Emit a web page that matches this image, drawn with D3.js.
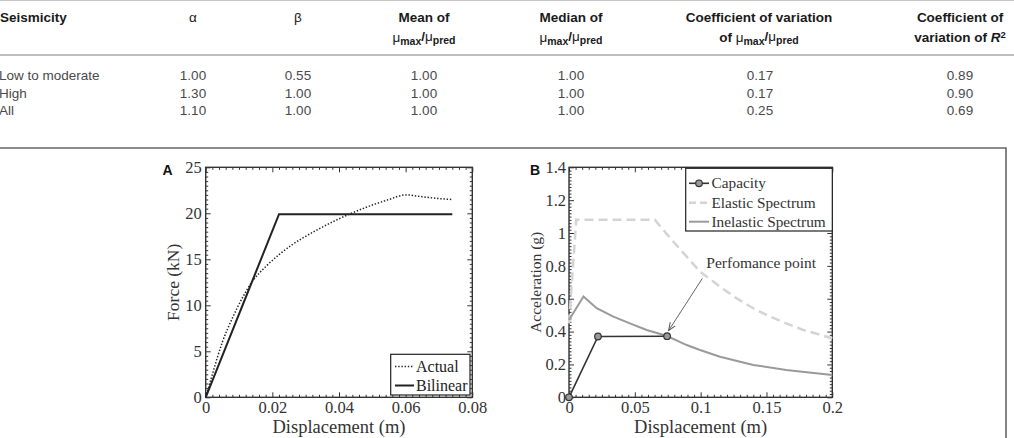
<!DOCTYPE html>
<html><head><meta charset="utf-8">
<script src="https://cdn.jsdelivr.net/npm/d3@7"></script>
<style>body{margin:0;background:#fff;overflow:hidden} svg{display:block}</style>
</head><body>
<svg id="c" width="1014" height="438"></svg>
<script>
// ---------- table data ----------
const seismicity = ["Low to moderate", "High", "All"];
const alphaVals = ["1.00", "1.30", "1.10"];
const betaVals = ["0.55", "1.00", "1.00"];
const meanVals = ["1.00", "1.00", "1.00"];
const medianVals = ["1.00", "1.00", "1.00"];
const covMuVals = ["0.17", "0.17", "0.25"];
const covR2Vals = ["0.89", "0.90", "0.69"];

// ---------- panel A data ----------
const actualDisp  = [0, 0.002, 0.005, 0.008, 0.011, 0.014, 0.018, 0.022, 0.026, 0.030, 0.035, 0.040, 0.045, 0.050, 0.055, 0.060, 0.065, 0.070, 0.074];
const actualForce = [0, 2.5, 6.0, 8.6, 10.8, 12.6, 14.2, 15.5, 16.6, 17.5, 18.5, 19.4, 20.2, 20.9, 21.5, 22.0, 21.8, 21.6, 21.5];
const bilinearDisp  = [0, 0.022, 0.074];
const bilinearForce = [0, 19.9, 19.9];
const xTicksA = [0, 0.02, 0.04, 0.06, 0.08];
const yTicksA = [0, 5, 10, 15, 20, 25];

// ---------- panel B data ----------
const capacityDisp = [0, 0.022, 0.0745];
const capacityAcc  = [0, 0.37, 0.372];
const elasticDisp = [0, 0.0055, 0.0653, 0.0717, 0.0793, 0.0894, 0.0995, 0.1147, 0.1274, 0.140, 0.1527, 0.165, 0.178, 0.2];
const elasticAcc  = [0.45, 1.08, 1.08, 1.018, 0.947, 0.856, 0.765, 0.673, 0.602, 0.542, 0.491, 0.450, 0.410, 0.359];
const inelasticDisp = [0, 0.011, 0.021, 0.0337, 0.0463, 0.059, 0.0745, 0.0894, 0.0995, 0.1147, 0.140, 0.165, 0.2];
const inelasticAcc  = [0.47, 0.613, 0.542, 0.491, 0.450, 0.41, 0.373, 0.318, 0.288, 0.247, 0.197, 0.166, 0.136];
const perfPoint = [0.0745, 0.372];
const xTicksB = [0, 0.05, 0.1, 0.15, 0.2];
const yTicksB = [0, 0.2, 0.4, 0.6, 0.8, 1, 1.2, 1.4];

const svg = d3.select("#c");
const SANS = "'Liberation Sans', Arial, Helvetica, sans-serif";
const SERIF = "'Liberation Serif', 'Times New Roman', serif";

// ================= TABLE =================
svg.append("line").attr("x1", 0).attr("x2", 1014).attr("y1", 0.5).attr("y2", 0.5)
  .attr("stroke", "#c8c8c8").attr("stroke-width", 1);
svg.append("line").attr("x1", 0).attr("x2", 1014).attr("y1", 55).attr("y2", 55)
  .attr("stroke", "#bdbdbd").attr("stroke-width", 2);

const tbl = svg.append("g").attr("font-family", SANS).attr("font-size", 13.5);
function rich(x, y, anchor, segs, weight) {
  const t = tbl.append("text").attr("x", x).attr("y", y).attr("text-anchor", anchor)
    .attr("font-weight", weight).attr("fill", "#1a1a1a");
  segs.forEach(s => {
    const ts = t.append("tspan").text(s.t);
    if (s.sub) ts.attr("font-size", 10.5).attr("dy", "0.3em");
    if (s.unsub) ts.attr("dy", "-0.3em");
    if (s.sup) ts.attr("font-size", 9.5).attr("dy", "-0.45em");
    if (s.normal) ts.attr("font-weight", "normal");
    if (s.italic) ts.attr("font-style", "italic");
  });
  return t;
}
const muRatio = [{t: "μ", normal: true}, {t: "max", sub: true}, {t: "/", unsub: true}, {t: "μ", normal: true}, {t: "pred", sub: true}];
const L1 = 22, L2 = 42;
rich(0, L1, "start", [{t: "Seismicity"}], "bold");
rich(193, L1, "middle", [{t: "α", normal: true}], "bold");
rich(298, L1, "middle", [{t: "β", normal: true}], "bold");
rich(424, L1, "middle", [{t: "Mean of"}], "bold");
rich(424, L2, "middle", muRatio, "bold");
rich(571, L1, "middle", [{t: "Median of"}], "bold");
rich(571, L2, "middle", muRatio, "bold");
rich(759, L1, "middle", [{t: "Coefficient of variation"}], "bold");
rich(759, L2, "middle", [{t: "of "}].concat(muRatio), "bold");
rich(960, L1, "middle", [{t: "Coefficient of"}], "bold");
rich(960, L2, "middle", [{t: "variation of "}, {t: "R", italic: true}, {t: "2", sup: true}], "bold");

const cols = [
  {vals: seismicity, x: -1, anchor: "start"},
  {vals: alphaVals, x: 193, anchor: "middle"},
  {vals: betaVals, x: 298, anchor: "middle"},
  {vals: meanVals, x: 424, anchor: "middle"},
  {vals: medianVals, x: 571, anchor: "middle"},
  {vals: covMuVals, x: 760, anchor: "middle"},
  {vals: covR2Vals, x: 960, anchor: "middle"}
];
const rowY = [80, 97.5, 115];
cols.forEach(c => {
  tbl.selectAll(null).data(c.vals).enter().append("text")
    .attr("x", c.x).attr("y", (d, i) => rowY[i]).attr("text-anchor", c.anchor)
    .attr("fill", "#4a4a4a").text(d => d);
});

// ================= FIGURE FRAME =================
svg.append("path").attr("d", "M-2,148 H1006 V440").attr("fill", "none")
  .attr("stroke", "#666").attr("stroke-width", 1.6);

// ================= generic panel =================
function range(a, b, step) { const r = []; for (let i = 0; a + i * step <= b + 1e-9; i++) r.push(+(a + i * step).toFixed(6)); return r; }

function panel(opt) {
  const g = svg.append("g");
  const x = d3.scaleLinear().domain(opt.xd).range(opt.xr);
  const y = d3.scaleLinear().domain(opt.yd).range(opt.yr);
  const [x0, x1] = opt.xr, [y0, y1] = opt.yr;
  const minorX = range(opt.xd[0], opt.xd[1], opt.xMinor).filter(v => !opt.xTicks.some(t => Math.abs(t - v) < 1e-9));
  const minorY = range(opt.yd[0], opt.yd[1], opt.yMinor).filter(v => !opt.yTicks.some(t => Math.abs(t - v) < 1e-9));
  const axes = g.append("g");
  const mk = (axisFn, scale, vals, size, tr, lab, pad) => {
    const a = axisFn(scale).tickValues(vals).tickSize(size).tickSizeOuter(0).tickPadding(pad || 3);
    if (!lab) a.tickFormat("");
    else a.tickFormat(d => String(d));
    const s = axes.append("g").attr("transform", tr).call(a);
    s.attr("font-family", SERIF).attr("font-size", 16.5);
    s.select(".domain").remove();
    s.selectAll("line").attr("stroke", "#333").attr("stroke-width", 1);
    s.selectAll("text").attr("fill", "#333");
    return s;
  };
  const xl = mk(d3.axisBottom, x, opt.xTicks, -5, `translate(0,${y0})`, true, 4);
  xl.selectAll("text").attr("dy", null).attr("y", 16);
  mk(d3.axisBottom, x, minorX, -2.5, `translate(0,${y0})`, false);
  mk(d3.axisTop, x, opt.xTicks, -5, `translate(0,${y1})`, false);
  mk(d3.axisTop, x, minorX, -2.5, `translate(0,${y1})`, false);
  mk(d3.axisLeft, y, opt.yTicks, -5, `translate(${x0},0)`, true, opt.yPad);
  mk(d3.axisLeft, y, minorY, -2.5, `translate(${x0},0)`, false);
  mk(d3.axisRight, y, opt.yTicks, -5, `translate(${x1},0)`, false);
  mk(d3.axisRight, y, minorY, -2.5, `translate(${x1},0)`, false);
  g.append("rect").attr("x", x0).attr("y", y1).attr("width", x1 - x0).attr("height", y0 - y1)
    .attr("fill", "none").attr("stroke", "#333").attr("stroke-width", 1.4);
  // titles
  g.append("text").attr("x", (x0 + x1) / 2).attr("y", 433).attr("text-anchor", "middle")
    .attr("font-family", SERIF).attr("font-size", 18.5).attr("fill", "#333").text(opt.xTitle);
  g.append("text").attr("transform", `translate(${opt.yTitleX},${(y0 + y1) / 2}) rotate(-90)`)
    .attr("text-anchor", "middle").attr("font-family", SERIF).attr("font-size", opt.yTitleSize)
    .attr("fill", "#333").text(opt.yTitle);
  g.append("text").attr("x", opt.labelX).attr("y", 175).attr("font-family", SANS)
    .attr("font-weight", "bold").attr("font-size", 14).attr("fill", "#111").text(opt.label);
  return {g, x, y};
}

// ================= PANEL A =================
const A = panel({
  xd: [0, 0.08], xr: [205.7, 472.3], yd: [0, 25], yr: [397.3, 167.3],
  xTicks: xTicksA, yTicks: yTicksA, xMinor: 0.002, yMinor: 0.5, yPad: 4,
  xTitle: "Displacement (m)", yTitle: "Force (kN)", yTitleX: 179, yTitleSize: 17.5,
  label: "A", labelX: 162.5
});
const lineA = d3.line().x(d => A.x(d[0])).y(d => A.y(d[1]));
A.g.append("path").datum(actualDisp.map((d, i) => [d, actualForce[i]]))
  .attr("d", lineA.curve(d3.curveMonotoneX)).attr("fill", "none").attr("stroke", "#222")
  .attr("stroke-width", 1.5).attr("stroke-dasharray", "1.4,1.8");
A.g.append("path").datum(bilinearDisp.map((d, i) => [d, bilinearForce[i]]))
  .attr("d", d3.line().x(d => A.x(d[0])).y(d => A.y(d[1]))).attr("fill", "none")
  .attr("stroke", "#222").attr("stroke-width", 2);
// legend A
const lgA = A.g.append("g").attr("font-family", SERIF).attr("font-size", 16).attr("fill", "#222");
lgA.append("rect").attr("x", 390.7).attr("y", 354.3).attr("width", 79.3).attr("height", 40.7)
  .attr("fill", "#fff").attr("stroke", "#222").attr("stroke-width", 1.2);
lgA.append("line").attr("x1", 395).attr("x2", 414).attr("y1", 366.5).attr("y2", 366.5)
  .attr("stroke", "#222").attr("stroke-width", 1.5).attr("stroke-dasharray", "1.4,1.8");
lgA.append("line").attr("x1", 395).attr("x2", 414).attr("y1", 385.5).attr("y2", 385.5)
  .attr("stroke", "#222").attr("stroke-width", 2);
lgA.append("text").attr("x", 416).attr("y", 372).text("Actual");
lgA.append("text").attr("x", 416).attr("y", 391).text("Bilinear");

// ================= PANEL B =================
const B = panel({
  xd: [0, 0.2], xr: [569, 832.3], yd: [0, 1.4], yr: [397.3, 167.3],
  xTicks: xTicksB, yTicks: yTicksB, xMinor: 0.005, yMinor: 0.02, yPad: 3,
  xTitle: "Displacement (m)", yTitle: "Acceleration (g)", yTitleX: 541, yTitleSize: 15.5,
  label: "B", labelX: 530
});
const lineB = d3.line().x(d => B.x(d[0])).y(d => B.y(d[1]));
B.g.append("path").datum(elasticDisp.map((d, i) => [d, elasticAcc[i]]))
  .attr("d", lineB).attr("fill", "none").attr("stroke", "#d4d4d4")
  .attr("stroke-width", 2.5).attr("stroke-dasharray", "9,5");
B.g.append("path").datum(inelasticDisp.map((d, i) => [d, inelasticAcc[i]]))
  .attr("d", lineB).attr("fill", "none").attr("stroke", "#9a9a9a").attr("stroke-width", 2);
B.g.append("path").datum(capacityDisp.map((d, i) => [d, capacityAcc[i]]))
  .attr("d", lineB).attr("fill", "none").attr("stroke", "#333").attr("stroke-width", 1.6);
B.g.selectAll(null).data(capacityDisp.map((d, i) => [d, capacityAcc[i]])).enter().append("circle")
  .attr("cx", d => B.x(d[0])).attr("cy", d => B.y(d[1])).attr("r", 3.3)
  .attr("fill", "#999").attr("stroke", "#333").attr("stroke-width", 1.2);
// annotation
svg.append("defs").append("marker").attr("id", "ah").attr("viewBox", "0 0 10 10")
  .attr("refX", 10).attr("refY", 5).attr("markerWidth", 8).attr("markerHeight", 8)
  .attr("orient", "auto").attr("markerUnits", "userSpaceOnUse")
  .append("path").attr("d", "M0,1 L10,5 L0,9").attr("fill", "none").attr("stroke", "#555").attr("stroke-width", 1.3);
B.g.append("line").attr("x1", B.x(0.1013)).attr("y1", B.y(0.724))
  .attr("x2", B.x(perfPoint[0]) + 1.5).attr("y2", B.y(perfPoint[1]) - 5.5)
  .attr("stroke", "#666").attr("stroke-width", 1).attr("marker-end", "url(#ah)");
B.g.append("text").attr("x", B.x(0.146)).attr("y", B.y(0.787)).attr("text-anchor", "middle")
  .attr("font-family", SERIF).attr("font-size", 15.5).attr("fill", "#333").text("Perfomance point");
// legend B
const lgB = B.g.append("g").attr("font-family", SERIF).attr("font-size", 15.3).attr("fill", "#333");
lgB.append("rect").attr("x", 685.7).attr("y", 168.3).attr("width", 146.6).attr("height", 62.7)
  .attr("fill", "#fff").attr("stroke", "#222").attr("stroke-width", 1.2);
const lgRows = [183.3, 202.7, 221.7];
lgB.append("line").attr("x1", 689).attr("x2", 709).attr("y1", lgRows[0]).attr("y2", lgRows[0])
  .attr("stroke", "#333").attr("stroke-width", 1.6);
lgB.append("circle").attr("cx", 699).attr("cy", lgRows[0]).attr("r", 3.3)
  .attr("fill", "#999").attr("stroke", "#333").attr("stroke-width", 1.2);
lgB.append("line").attr("x1", 689).attr("x2", 709).attr("y1", lgRows[1]).attr("y2", lgRows[1])
  .attr("stroke", "#d4d4d4").attr("stroke-width", 2.5).attr("stroke-dasharray", "7,4");
lgB.append("line").attr("x1", 689).attr("x2", 709).attr("y1", lgRows[2]).attr("y2", lgRows[2])
  .attr("stroke", "#9a9a9a").attr("stroke-width", 2);
["Capacity", "Elastic Spectrum", "Inelastic Spectrum"].forEach((t, i) =>
  lgB.append("text").attr("x", 711.5).attr("y", lgRows[i] + 5).text(t));
</script>
</body></html>
